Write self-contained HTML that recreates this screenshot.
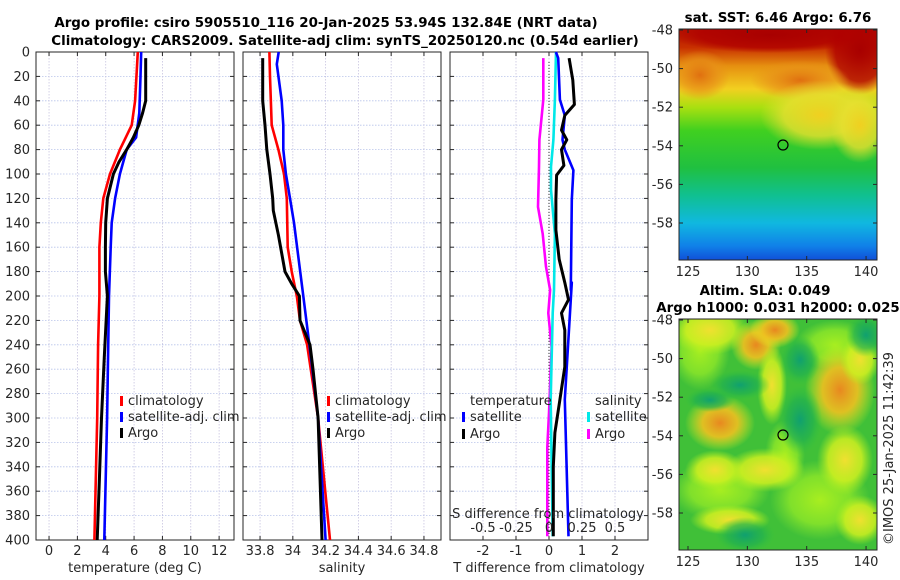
<!DOCTYPE html>
<html><head><meta charset="utf-8">
<style>
body{margin:0;background:#fff;}
svg{display:block;font-family:"DejaVu Sans","Liberation Sans",sans-serif;}
.t{font-size:13px;fill:#262626}
.b{font-size:13.4px;font-weight:bold;fill:#000}
</style></head>
<body>
<svg id="chart" width="900" height="580" viewBox="0 0 900 580">
<defs>
 <linearGradient id="sstg" x1="0" y1="0" x2="0" y2="1">
  <stop offset="0" stop-color="#b41000"/><stop offset="0.08" stop-color="#c83000"/>
  <stop offset="0.16" stop-color="#e69010"/><stop offset="0.26" stop-color="#f2d020"/>
  <stop offset="0.34" stop-color="#a8e010"/><stop offset="0.44" stop-color="#40d020"/>
  <stop offset="0.6" stop-color="#20c040"/><stop offset="0.72" stop-color="#10c090"/>
  <stop offset="0.84" stop-color="#10b8e0"/><stop offset="0.94" stop-color="#1080e8"/>
  <stop offset="1" stop-color="#1050d8"/>
 </linearGradient>
 <radialGradient id="redb"><stop offset="0" stop-color="#a80000"/><stop offset="0.7" stop-color="#b00000" stop-opacity="0.8"/><stop offset="1" stop-color="#b00000" stop-opacity="0"/></radialGradient>
 <radialGradient id="oranb"><stop offset="0" stop-color="#e07010"/><stop offset="0.6" stop-color="#e89018" stop-opacity="0.7"/><stop offset="1" stop-color="#e89018" stop-opacity="0"/></radialGradient>
 <radialGradient id="yelb"><stop offset="0" stop-color="#f0d020"/><stop offset="0.6" stop-color="#e8e030" stop-opacity="0.8"/><stop offset="1" stop-color="#e0e030" stop-opacity="0"/></radialGradient>
 <radialGradient id="orb"><stop offset="0" stop-color="#e88820"/><stop offset="0.5" stop-color="#f0c020" stop-opacity="0.9"/><stop offset="1" stop-color="#e8f020" stop-opacity="0"/></radialGradient>
 <radialGradient id="yb2"><stop offset="0" stop-color="#f0e030"/><stop offset="0.6" stop-color="#d0f020" stop-opacity="0.85"/><stop offset="1" stop-color="#b0f020" stop-opacity="0"/></radialGradient>
 <radialGradient id="lg2"><stop offset="0" stop-color="#a8ee20"/><stop offset="0.6" stop-color="#90e828" stop-opacity="0.8"/><stop offset="1" stop-color="#80e030" stop-opacity="0"/></radialGradient>
 <radialGradient id="gb2"><stop offset="0" stop-color="#10a070"/><stop offset="0.6" stop-color="#20b050" stop-opacity="0.7"/><stop offset="1" stop-color="#30c040" stop-opacity="0"/></radialGradient>
 <clipPath id="c1"><rect x="679" y="29" width="198" height="231"/></clipPath>
 <clipPath id="c2"><rect x="679" y="319" width="198" height="231"/></clipPath>
</defs>
<g id="titles">
 <text class="b" x="326" y="27" text-anchor="middle">Argo profile: csiro 5905510_116 20-Jan-2025 53.94S 132.84E (NRT data)</text>
 <text class="b" x="345" y="45" text-anchor="middle">Climatology: CARS2009. Satellite-adj clim: synTS_20250120.nc (0.54d earlier)</text>
</g>
<g id="plots"></g>
<g id="maps">
 <text class="b" x="778" y="22" text-anchor="middle">sat. SST: 6.46 Argo: 6.76</text>
 <g clip-path="url(#c1)">
  <rect x="679" y="29" width="198" height="231" fill="url(#sstg)"/>
  <ellipse cx="860" cy="50" rx="35" ry="45" fill="url(#redb)"/>
  <ellipse cx="770" cy="35" rx="100" ry="18" fill="url(#redb)"/>
  <ellipse cx="700" cy="75" rx="30" ry="25" fill="url(#oranb)"/>
  <ellipse cx="800" cy="80" rx="50" ry="20" fill="url(#oranb)"/>
  <ellipse cx="820" cy="115" rx="60" ry="35" fill="url(#yelb)"/>
  <ellipse cx="860" cy="125" rx="30" ry="38" fill="url(#yelb)"/>
 </g>
 <rect x="679" y="29" width="198" height="231" fill="none" stroke="#262626" stroke-width="1"/>
 <circle cx="783" cy="145" r="5" fill="none" stroke="#000" stroke-width="1.2"/>
 <text class="b" x="765" y="295" text-anchor="middle">Altim. SLA: 0.049</text>
 <text class="b" x="778" y="312" text-anchor="middle">Argo h1000: 0.031 h2000: 0.025</text>
 <g clip-path="url(#c2)">
  <rect x="679" y="319" width="198" height="231" fill="#40c038"/>
  <ellipse cx="700" cy="350" rx="30" ry="40" fill="url(#lg2)"/>
  <ellipse cx="835" cy="345" rx="40" ry="25" fill="url(#lg2)"/>
  <ellipse cx="720" cy="490" rx="50" ry="30" fill="url(#lg2)"/>
  <ellipse cx="820" cy="500" rx="50" ry="40" fill="url(#lg2)"/>
  <ellipse cx="785" cy="455" rx="20" ry="35" fill="url(#lg2)"/>
  <ellipse cx="710" cy="330" rx="40" ry="25" fill="url(#yb2)"/>
  <ellipse cx="720" cy="423" rx="35" ry="28" fill="url(#orb)"/>
  <ellipse cx="715" cy="470" rx="30" ry="20" fill="url(#yb2)"/>
  <ellipse cx="756" cy="345" rx="25" ry="25" fill="url(#orb)"/>
  <ellipse cx="765" cy="470" rx="40" ry="22" fill="url(#yb2)"/>
  <ellipse cx="775" cy="330" rx="25" ry="18" fill="url(#orb)"/>
  <ellipse cx="772" cy="385" rx="15" ry="40" fill="url(#yb2)"/>
  <ellipse cx="840" cy="390" rx="35" ry="45" fill="url(#orb)"/>
  <ellipse cx="845" cy="460" rx="28" ry="35" fill="url(#yb2)"/>
  <ellipse cx="860" cy="360" rx="20" ry="25" fill="url(#yb2)"/>
  <ellipse cx="730" cy="520" rx="40" ry="15" fill="url(#yb2)"/>
  <ellipse cx="860" cy="520" rx="25" ry="25" fill="url(#yb2)"/>
  <ellipse cx="745" cy="535" rx="30" ry="18" fill="url(#gb2)"/>
  <ellipse cx="710" cy="400" rx="25" ry="12" fill="url(#gb2)"/>
  <ellipse cx="866" cy="335" rx="20" ry="22" fill="url(#gb2)"/>
  <ellipse cx="800" cy="420" rx="22" ry="35" fill="url(#gb2)"/>
  <ellipse cx="740" cy="385" rx="30" ry="15" fill="url(#gb2)"/>
  <ellipse cx="800" cy="360" rx="20" ry="25" fill="url(#gb2)"/>
 </g>
 <rect x="679" y="319" width="198" height="231" fill="none" stroke="#262626" stroke-width="1"/>
 <circle cx="783" cy="435" r="5" fill="none" stroke="#000" stroke-width="1.2"/>
 <text class="t" transform="translate(893,545) rotate(-90)">©IMOS 25-Jan-2025 11:42:39</text>
</g>
</svg>
<script>
// ---- profile data (depth in m) ----
const tClimDepth=[0,40,60,80,100,120,140,160,200,240,300,400];
const tClimVal=[6.26,6.07,5.83,5.0,4.3,3.83,3.65,3.55,3.55,3.46,3.4,3.2];
const tSatDepth=[0,20,50,70,80,100,120,140,160,200,300,400];
const tSatVal=[6.5,6.45,6.37,6.14,5.48,5.0,4.66,4.42,4.35,4.23,4.1,3.9];
const tArgoDepth=[5,40,50,60,70,80,90,100,120,140,160,180,200,250,300,350,400];
const tArgoVal=[6.82,6.82,6.6,6.33,5.95,5.48,4.94,4.54,4.12,4.0,3.98,3.98,4.12,3.9,3.7,3.55,3.4];
const sClimDepth=[0,20,60,80,100,120,160,180,200,220,240,300,400];
const sClimVal=[33.857,33.861,33.871,33.912,33.946,33.963,33.969,33.993,34.024,34.044,34.087,34.154,34.227];
const sSatDepth=[0,10,40,60,80,100,120,140,200,250,300,400];
const sSatVal=[33.914,33.902,33.932,33.942,33.942,33.958,33.983,34.007,34.064,34.11,34.154,34.2];
const sArgoDepth=[5,40,60,80,100,120,130,150,180,190,200,220,240,260,300,400];
const sArgoVal=[33.816,33.816,33.83,33.841,33.861,33.877,33.881,33.912,33.952,33.993,34.04,34.044,34.105,34.123,34.154,34.178];
const dTSatDepth=[0,5,39,52,72,80,97,121,195,189,285,397];
const dTSatVal=[0.21,0.28,0.33,0.48,0.41,0.48,0.74,0.69,0.66,0.69,0.48,0.59];
const dTArgoDepth=[5,23,43,52,64,72,80,93,101,121,146,170,189,203,214,228,258,285,312,340,397];
const dTArgoVal=[0.61,0.72,0.77,0.48,0.38,0.54,0.38,0.45,0.23,0.21,0.21,0.31,0.48,0.59,0.38,0.48,0.48,0.33,0.18,0.13,0.13];
const dSSatDepth=[0,39,72,94,113,149,195,214,285,397];
const dSSatVal=[0.053,0.045,0.033,0.015,0.015,0.045,0.038,0.028,0.013,0.028];
const dSArgoDepth=[5,39,72,94,127,149,176,195,214,242,296,324,397];
const dSArgoVal=[-0.043,-0.043,-0.073,-0.076,-0.083,-0.048,-0.023,0.008,-0.005,0.02,0,-0.013,-0.013];
const depthTicks=[0,20,40,60,80,100,120,140,160,180,200,220,240,260,280,300,320,340,360,380,400];
const tTicks=[0,2,4,6,8,10,12];
const sTicks=[33.8,34,34.2,34.4,34.6,34.8];
const sTickLabels=['33.8','34','34.2','34.4','34.6','34.8'];
const dTTicks=[-2,-1,0,1,2];
const dSTicks=[-0.5,-0.25,0,0.25,0.5];
const dSTickLabels=['-0.5','-0.25','0','0.25','0.5'];
const latTicks=[-48,-50,-52,-54,-56,-58];
const lonTicks=[125,130,135,140];

const NS='http://www.w3.org/2000/svg';
const root=document.getElementById('plots');
const Y0=52,Y1=540;
const yD=d=>Y0+(d/400)*(Y1-Y0);
function el(tag,attrs,parent){const e=document.createElementNS(NS,tag);for(const k in attrs)e.setAttribute(k,attrs[k]);(parent||root).appendChild(e);return e;}
function txt(x,y,s,anchor,parent){const e=el('text',{x:x,y:y,'text-anchor':anchor||'middle',class:'t'},parent);e.textContent=s;return e;}

const panels=[
 {x0:36,x1:234,lo:-0.92,hi:13.05,name:'temperature'},
 {x0:243,x1:441,lo:33.696,hi:34.904,name:'salinity'},
 {x0:450,x1:648,lo:-3,hi:3,name:'difference'}
];
function sx(p,v){return p.x0+(v-p.lo)/(p.hi-p.lo)*(p.x1-p.x0);}
const sxS=v=>549+v*132;

panels.forEach((p,i)=>{
 const g=el('g',{});
 
 
 depthTicks.forEach(d=>{
  const l=el('line',{x1:p.x0,x2:p.x1,y1:yD(d),y2:yD(d),stroke:'#b8c4ea','stroke-width':0.8,'stroke-dasharray':'1.5,1.5'},g);
  
  
  el('line',{x1:p.x0,x2:p.x0+4,y1:yD(d),y2:yD(d),stroke:'#262626'},g);
  el('line',{x1:p.x1-4,x2:p.x1,y1:yD(d),y2:yD(d),stroke:'#262626'},g);
  if(i===0){const t=txt(30,yD(d)+4.5,String(d),'end',g);
   
   }
 });
 const ticks=i===0?tTicks:i===1?sTicks:dTTicks;
 const labels=i===0?tTicks.map(String):i===1?sTickLabels:dTTicks.map(String);
 ticks.forEach((v,k)=>{
  const x=sx(p,v);
  const l=el('line',{x1:x,x2:x,y1:Y0,y2:Y1,stroke:'#c8c4e0','stroke-width':0.8,'stroke-dasharray':'1.5,1.5'},g);
  
  
  el('line',{x1:x,x2:x,y1:Y1,y2:Y1-4,stroke:'#262626'},g);
  el('line',{x1:x,x2:x,y1:Y0,y2:Y0+4,stroke:'#262626'},g);
  const t=txt(x,555,labels[k],'middle',g);
  
  
 });
 const fr=el('rect',{x:p.x0,y:Y0,width:p.x1-p.x0,height:Y1-Y0,fill:'none',stroke:'#262626','stroke-width':1},g);
 
 
});

function line(depths,vals,fx,color,name,w){
 const pts=depths.map((d,k)=>fx(vals[k]).toFixed(1)+','+yD(d).toFixed(1)).join(' ');
 const e=el('polyline',{points:pts,fill:'none',stroke:color,'stroke-width':w||2.6,'stroke-linejoin':'round'});
 
 
}
const P=panels;
line(tClimDepth,tClimVal,v=>sx(P[0],v),'#ff0000','temp-climatology-line');
line(tSatDepth,tSatVal,v=>sx(P[0],v),'#0000ff','temp-satellite-line');
line(tArgoDepth,tArgoVal,v=>sx(P[0],v),'#000000','temp-argo-line',3);
line(sClimDepth,sClimVal,v=>sx(P[1],v),'#ff0000','sal-climatology-line');
line(sSatDepth,sSatVal,v=>sx(P[1],v),'#0000ff','sal-satellite-line');
line(sArgoDepth,sArgoVal,v=>sx(P[1],v),'#000000','sal-argo-line',3);
const z=el('line',{x1:549,x2:549,y1:Y0+10,y2:Y1,stroke:'#333','stroke-dasharray':'1,2','stroke-width':1});


line(dSArgoDepth,dSArgoVal,sxS,'#ff00ff','sal-argo-diff-line');
line(dSSatDepth,dSSatVal,sxS,'#00e8e8','sal-satellite-diff-line');
line(dTSatDepth,dTSatVal,v=>sx(P[2],v),'#0000ff','temp-satellite-diff-line');
line(dTArgoDepth,dTArgoVal,v=>sx(P[2],v),'#000000','temp-argo-diff-line',3);

dSTicks.forEach((v,k)=>{const t=txt(sxS(v),532,dSTickLabels[k]);
 
 });
let t=txt(548,518,'S difference from climatology');


t=txt(135,572,'temperature (deg C)');


t=txt(342,572,'salinity');


t=txt(549,572,'T difference from climatology');



function leg(x,y,color,label,name){
 const g=el('g',{});
 
 
 if(color) el('rect',{x:x,y:y-9,width:3,height:10,fill:color},g);
 txt(x+(color?8:0),y,label,'start',g);
}
leg(120,405,'#ff0000','climatology','legend-entry-climatology');
leg(120,421,'#0000ff','satellite-adj. clim','legend-entry-satellite');
leg(120,437,'#000000','Argo','legend-entry-argo');
leg(327,405,'#ff0000','climatology','legend-entry-climatology-sal');
leg(327,421,'#0000ff','satellite-adj. clim','legend-entry-satellite-sal');
leg(327,437,'#000000','Argo','legend-entry-argo-sal');
leg(470,405,null,'temperature','legend-header-temperature');
leg(462,421,'#0000ff','satellite','legend-entry-t-satellite');
leg(462,438,'#000000','Argo','legend-entry-t-argo');
leg(595,405,null,'salinity','legend-header-salinity');
leg(587,421,'#00e8e8','satellite','legend-entry-s-satellite');
leg(587,438,'#ff00ff','Argo','legend-entry-s-argo');

const mg=document.getElementById('maps');
[[29,30,19.3,276],[319,320,19.3,566]].forEach(([top,y48,py,ly])=>{
 latTicks.forEach(v=>{const yy=y48+(-48-v)*py;
  el('line',{x1:679,x2:683,y1:yy,y2:yy,stroke:'#262626'},mg);
  el('line',{x1:873,x2:877,y1:yy,y2:yy,stroke:'#262626'},mg);
  const t=txt(673,yy+4.5,String(v),'end',mg);
  
  });
 lonTicks.forEach(v=>{const x=688+(v-125)*11.87;
  el('line',{x1:x,x2:x,y1:top+231,y2:top+227,stroke:'#262626'},mg);
  el('line',{x1:x,x2:x,y1:top,y2:top+4,stroke:'#262626'},mg);
  const t=txt(x,ly,String(v),'middle',mg);
  
  });
});
</script>
</body></html>
